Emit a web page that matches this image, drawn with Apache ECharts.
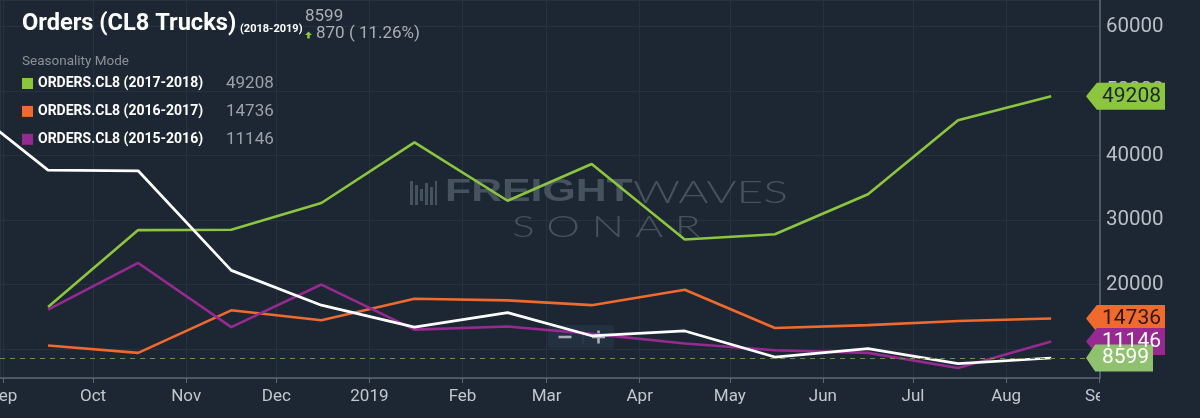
<!DOCTYPE html>
<html>
<head>
<meta charset="utf-8">
<style>
  html, body { margin: 0; padding: 0; background: #1c2733; }
  #chart { width: 1200px; height: 418px; }
</style>
<script src="https://cdn.jsdelivr.net/npm/echarts@6/dist/echarts.min.js"></script>
</head>
<body>
<div id="chart"></div>
<script>
// seasonality view, one point per month (mid-month)
const pointDates = ['2018-08-16', '2018-09-16', '2018-10-16', '2018-11-16', '2018-12-16', '2019-01-16',
  '2019-02-16', '2019-03-16', '2019-04-16', '2019-05-16', '2019-06-16', '2019-07-16', '2019-08-16']
const xRange = ['2018-08-31', '2019-09-01T06:00']

// 2018-2019 (current) starts one month earlier, the rest start in Sep
const orders1819 = [49208, 37750, 37650, 22200, 16800, 13400, 15650, 12050, 12800, 8750, 10050, 7729, 8599]
const orders1718 = [16500, 28450, 28500, 32650, 42050, 33000, 38700, 27000, 27800, 34000, 45500, 49208]
const orders1617 = [10550, 9400, 16000, 14450, 17800, 17550, 16800, 19200, 13250, 13700, 14350, 14736]
const orders1516 = [16100, 23350, 13400, 20000, 13000, 13500, 12350, 10850, 9800, 9400, 7050, 11146]

const yMin = 5500
const yMax = 64150
const monthNames = ['Jan', 'Feb', 'Mar', 'Apr', 'May', 'Jun', 'Jul', 'Aug', 'Sep', 'Oct', 'Nov', 'Dec']

const bg = '#1c2733'
const gridColor = '#26323e'
const axisColor = '#5d6873'

function toTime(s) {
  const [d, t] = s.split('T')
  const p = d.split('-').map(Number)
  const h = t ? Number(t.split(':')[0]) : 0
  return new Date(p[0], p[1] - 1, p[2], h).getTime()
}

const xMin = toTime(xRange[0])
const xMax = toTime(xRange[1])

function pairs(values) {
  const dates = pointDates.slice(pointDates.length - values.length)
  return values.map((v, i) => [toTime(dates[i]), v])
}

const last = arr => arr[arr.length - 1]

// price-tag style marker on the right axis
function tag(value, fill, textColor, w) {
  return {
    silent: true,
    symbol: 'path://M0,14L11,0L80,0L80,28L11,28Z',
    symbolSize: [w, 27],
    symbolOffset: [w / 2 - 14, 0],
    itemStyle: { color: fill },
    label: {
      show: true,
      position: 'inside',
      formatter: '{c}',
      color: textColor,
      fontSize: 21,
      fontFamily: 'Roboto',
      offset: [6, 0]
    },
    data: [{ coord: [xMax, value], value: value }]
  }
}

const seriesList = [
  { name: 'ORDERS.CL8 (2017-2018)', values: orders1718, color: '#8cc63f', tagText: '#1c2733', tagW: 79 },
  { name: 'ORDERS.CL8 (2016-2017)', values: orders1617, color: '#ef6a2c', tagText: '#2b1a14', tagW: 79 },
  { name: 'ORDERS.CL8 (2015-2016)', values: orders1516, color: '#962a90', tagText: '#ffffff', tagW: 79 }
]

const legendValues = {}
seriesList.forEach(s => { legendValues[s.name] = last(s.values) })

const series = seriesList.map(s => ({
  name: s.name,
  type: 'line',
  data: pairs(s.values),
  showSymbol: false,
  lineStyle: { width: 2.6, color: s.color },
  itemStyle: { color: s.color },
  markPoint: tag(last(s.values), s.color, s.tagText, s.tagW)
}))

series.push({
  name: 'ORDERS.CL8 (2018-2019)',
  type: 'line',
  data: pairs(orders1819),
  showSymbol: false,
  lineStyle: { width: 2.7, color: '#ffffff' },
  itemStyle: { color: '#ffffff' },
  markLine: {
    silent: true,
    symbol: 'none',
    label: { show: false },
    lineStyle: { color: '#6a8f4c', type: [5, 5], width: 1.2 },
    data: [{ yAxis: last(orders1819) }]
  },
  markPoint: tag(last(orders1819), '#8fc16e', '#ffffff', 67)
})

const watermarkColor = '#46525e'
const change = last(orders1819) - orders1819[orders1819.length - 2]

const graphic = [
  // header texts
  { type: 'text', x: 22, y: 24, z: 10, style: { text: 'Orders (CL8 Trucks)', fill: '#ffffff', font: 'bold 23.6px Roboto', verticalAlign: 'middle' } },
  { type: 'text', x: 240, y: 29, z: 10, style: { text: '(2018-2019)', fill: '#ffffff', font: 'bold 11px Roboto', verticalAlign: 'middle' } },
  { type: 'text', x: 305, y: 16.5, z: 10, style: { text: String(last(orders1819)), fill: '#a9aeb3', font: '17px Roboto', verticalAlign: 'middle' } },
  // small up arrow
  { type: 'polygon', z: 10, shape: { points: [[305, 35], [308.5, 31.5], [312, 35], [309.8, 35], [309.8, 38.5], [307.2, 38.5], [307.2, 35]] }, style: { fill: '#8cc63f' } },
  { type: 'text', x: 316, y: 33.5, z: 10, style: { text: change + ' ( 11.26%)', fill: '#a9aeb3', font: '17px Roboto', verticalAlign: 'middle' } },
  { type: 'text', x: 22, y: 62, z: 10, style: { text: 'Seasonality Mode', fill: '#8a9299', font: '13.5px Roboto', verticalAlign: 'middle' } },

  // watermark
  { type: 'group', x: 410, y: 181, z: 1, children: [
    { type: 'rect', shape: { x: 0, y: 0, width: 3, height: 24 }, style: { fill: watermarkColor } },
    { type: 'rect', shape: { x: 5, y: 4, width: 3, height: 20 }, style: { fill: watermarkColor } },
    { type: 'rect', shape: { x: 10, y: 8, width: 3, height: 12 }, style: { fill: watermarkColor } },
    { type: 'rect', shape: { x: 15, y: 2, width: 3, height: 22 }, style: { fill: watermarkColor } },
    { type: 'rect', shape: { x: 20, y: 6, width: 3, height: 18 }, style: { fill: watermarkColor } },
    { type: 'rect', shape: { x: 25, y: 0, width: 2, height: 24 }, style: { fill: watermarkColor } }
  ] },
  { type: 'text', x: 445, y: 192.5, z: 1, scaleX: 1.38, style: { text: 'FREIGHT', fill: watermarkColor, font: 'bold 31px "Liberation Sans"', verticalAlign: 'middle' } },
  { type: 'text', x: 633, y: 192.5, z: 1, scaleX: 1.49, style: { text: 'WAVES', fill: watermarkColor, font: '300 31px Lato', verticalAlign: 'middle' } },
  { type: 'text', x: 512, y: 227.5, z: 1, scaleX: 1.42, style: { text: 'S O N A R', fill: watermarkColor, font: '300 30px Lato', verticalAlign: 'middle' } },

  // zoom buttons
  { type: 'group', x: 548, y: 325, z: 10, children: [
    { type: 'rect', shape: { x: 0, y: 0, width: 66, height: 23.5, r: 3 }, style: { fill: '#223040' } },
    { type: 'line', shape: { x1: 35, y1: 4, x2: 35, y2: 19.5 }, style: { stroke: '#34424f', lineWidth: 1 } },
    { type: 'line', shape: { x1: 10.5, y1: 12, x2: 23.5, y2: 12 }, style: { stroke: '#a9afb5', lineWidth: 2.6 } },
    { type: 'line', shape: { x1: 44, y1: 12, x2: 57, y2: 12 }, style: { stroke: '#a9afb5', lineWidth: 2.6 } },
    { type: 'line', shape: { x1: 50.5, y1: 5.5, x2: 50.5, y2: 18.5 }, style: { stroke: '#a9afb5', lineWidth: 2.6 } }
  ] },

  // right panel hides the overflow of the last month label
  { type: 'rect', z: 10, shape: { x: 1100, y: 379, width: 100, height: 39 }, style: { fill: bg } }
]

const chart = echarts.init(document.getElementById('chart'))

chart.setOption({
  backgroundColor: bg,
  animation: false,
  grid: { left: 0, right: 100, top: 0, bottom: 40, outerBoundsMode: 'none' },
  legend: {
    data: seriesList.map(s => s.name),
    orient: 'vertical',
    left: 17,
    top: 70,
    icon: 'rect',
    itemWidth: 11,
    itemHeight: 11,
    itemGap: 10.9,
    selectedMode: false,
    formatter: name => `{n|${name}}{v|${legendValues[name]}}`,
    textStyle: {
      rich: {
        n: { fontSize: 14, fontWeight: 'bold', color: '#ffffff', fontFamily: 'Roboto', width: 188, lineHeight: 20 },
        v: { fontSize: 17, color: '#9ba2a9', fontFamily: 'Roboto', lineHeight: 20 }
      }
    }
  },
  xAxis: {
    type: 'time',
    min: xMin,
    max: xMax,
    splitNumber: 12,
    minInterval: 28 * 86400000,
    maxInterval: 31 * 86400000,
    axisLine: { lineStyle: { color: axisColor, width: 1.5 } },
    axisTick: { show: true, length: 5, lineStyle: { color: axisColor } },
    axisLabel: {
      color: '#c3c8cd',
      fontSize: 17,
      fontFamily: 'Roboto',
      margin: 10,
      hideOverlap: false,
      formatter: function (value) {
        const d = new Date(value)
        if (d.getDate() !== 1 || d.getHours() !== 0) return ''
        return d.getMonth() === 0 ? String(d.getFullYear()) : monthNames[d.getMonth()]
      }
    },
    splitLine: { show: true, lineStyle: { color: gridColor } }
  },
  yAxis: {
    type: 'value',
    position: 'right',
    min: yMin,
    max: yMax,
    axisLine: { show: true, lineStyle: { color: axisColor, width: 1.5 } },
    axisTick: { show: false },
    axisLabel: {
      color: '#b9bfc5',
      fontSize: 20.5,
      fontFamily: 'Roboto',
      margin: 6,
      showMinLabel: false,
      showMaxLabel: false,
      formatter: value => String(value)
    },
    splitLine: { lineStyle: { color: gridColor } }
  },
  graphic: graphic,
  series: series
})
</script>
</body>
</html>
